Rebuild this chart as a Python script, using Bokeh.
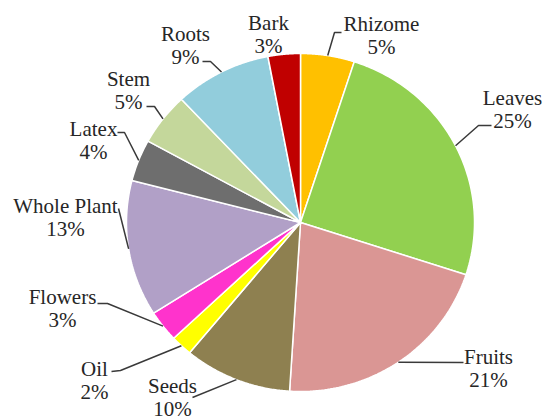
import numpy as np
from bokeh.plotting import figure
from bokeh.models import Range1d, ColumnDataSource
from bokeh.core.properties import value
from bokeh.embed import file_html
from bokeh.resources import INLINE

# ---- data ----
categories = ["Rhizome", "Leaves", "Fruits", "Seeds", "Oil", "Flowers",
              "Whole Plant", "Latex", "Stem", "Roots", "Bark"]
values = [5, 25, 21, 10, 2, 3, 13, 4, 5, 9, 3]
colors = ["#FFC000", "#92D050", "#DA9694", "#8E8050", "#FFFF00", "#FF33CC",
          "#B1A0C7", "#6E6E6E", "#C4D79B", "#92CDDC", "#C00000"]

# ---- layout (pixel space) ----
CX, CY, RX, RY = 300, 222, 174, 169
label_pos = {
    "Rhizome": (381, 23), "Leaves": (512, 97), "Fruits": (488, 356),
    "Seeds": (172, 385), "Oil": (94, 368), "Flowers": (62, 296),
    "Whole Plant": (65, 205), "Latex": (93, 128), "Stem": (128, 78),
    "Roots": (185, 33), "Bark": (268, 22),
}
PCT_DY = 23
leader_pts = {
    "Rhizome": [(334, 32), (341, 32)],
    "Leaves": [(478, 125), (491, 125)],
    "Fruits": [(463, 362)],
    "Seeds": [(192, 397)],
    "Oil": [(120, 370), (111, 371)],
    "Flowers": [(107, 303), (97, 303)],
    "Whole Plant": [(118, 208)],
    "Latex": [(124, 132), (117, 132)],
    "Stem": [(154, 106), (146, 106)],
    "Roots": [(210, 61), (202, 61)],
    "Bark": [],
}

p = figure(width=543, height=416, output_backend="svg", toolbar_location=None,
           x_range=Range1d(0, 543), y_range=Range1d(416, 0), min_border=0)
p.axis.visible = False
p.grid.visible = False
p.outline_line_color = None
p.background_fill_color = "white"
p.border_fill_color = "white"

total = float(sum(values))
fr = np.cumsum([0] + values) / total
xs, ys = [], []
mid_ang = []
for i in range(len(values)):
    t = np.linspace(fr[i], fr[i + 1], 80) * 2 * np.pi
    x = np.concatenate([[CX], CX + RX * np.sin(t), [CX]])
    y = np.concatenate([[CY], CY - RY * np.cos(t), [CY]])
    xs.append(list(x)); ys.append(list(y))
    mid_ang.append((fr[i] + fr[i + 1]) * np.pi)

p.patches(xs=xs, ys=ys, fill_color=colors, line_color="white", line_width=1.5)

lx, ly = [], []
for c, a in zip(categories, mid_ang):
    pts = leader_pts[c]
    if not pts:
        continue
    sx, sy = CX + RX * np.sin(a), CY - RY * np.cos(a)
    lx.append([sx] + [q[0] for q in pts])
    ly.append([sy] + [q[1] for q in pts])
p.multi_line(xs=lx, ys=ly, line_color="#3A3A3A", line_width=1.5)

src = ColumnDataSource(dict(
    x=[label_pos[c][0] for c in categories],
    y=[label_pos[c][1] for c in categories],
    y2=[label_pos[c][1] + PCT_DY for c in categories],
    name=categories,
    pct=[f"{v}%" for v in values],
))
font = value("Liberation Serif")
p.text(x="x", y="y", text="name", source=src, text_font=font,
       text_font_size="21px", text_color="#262626",
       text_align="center", text_baseline="middle")
p.text(x="x", y="y2", text="pct", source=src, text_font=font,
       text_font_size="21px", text_color="#262626",
       text_align="center", text_baseline="middle")

open("out.html", "w").write(file_html(p, INLINE))
